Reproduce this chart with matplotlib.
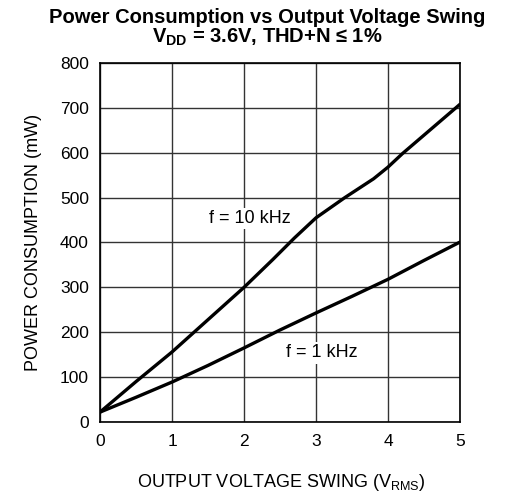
import numpy as np
import matplotlib
matplotlib.use("Agg")
import matplotlib.pyplot as plt

plt.rcParams['font.family'] = ['Liberation Sans', 'DejaVu Sans']
plt.rcParams['mathtext.fontset'] = 'custom'
plt.rcParams['mathtext.rm'] = 'Liberation Sans'
plt.rcParams['mathtext.bf'] = 'Liberation Sans:bold'

# data
v_10k = [0.0, 0.5, 1.0, 1.5, 2.0, 2.4, 2.7, 3.0, 3.4, 3.8, 4.0, 4.2, 4.6, 5.0]
p_10k = [22, 90, 156, 228, 300, 362, 410, 455, 500, 542, 568, 598, 653, 708]
v_1k = [0.0, 0.5, 1.0, 1.5, 2.0, 2.5, 3.0, 3.5, 4.0, 4.5, 5.0]
p_1k = [22, 55, 89, 126, 165, 205, 243, 280, 318, 360, 401]

x_ticks = [0, 1, 2, 3, 4, 5]
y_ticks = [0, 100, 200, 300, 400, 500, 600, 700, 800]

fig = plt.figure(figsize=(5.11, 4.96), dpi=100)
ax = fig.add_axes([0.1957, 0.1492, 0.7045, 0.7238])

ax.plot(v_10k, p_10k, color='black', lw=2.4, solid_capstyle='round', zorder=4)
ax.plot(v_1k, p_1k, color='black', lw=2.4, solid_capstyle='round', zorder=4)

ax.set_xlim(0, 5)
ax.set_ylim(0, 800)
ax.set_xticks(x_ticks)
ax.set_yticks(y_ticks)
ax.grid(True, color='#333333', lw=1.0)
ax.set_axisbelow(True)
ax.tick_params(length=0, labelsize=12.5)
ax.tick_params(axis='y', pad=8)
ax.tick_params(axis='x', pad=9)
for s in ax.spines.values():
    s.set_color('black')
    s.set_linewidth(1.2)

bbox = dict(facecolor='white', edgecolor='none', pad=1.5)
ax.text(2.08, 454, 'f = 10 kHz', fontsize=13, ha='center', va='center', bbox=bbox, zorder=3)
ax.text(3.08, 154, 'f = 1 kHz', fontsize=13, ha='center', va='center', bbox=bbox, zorder=3)

fig.text(0.065, 0.512, 'POWER CONSUMPTION (mW)', fontsize=13, rotation=90,
         ha='center', va='center')
fig.text(0.55, 0.028, 'OUTPUT VOLTAGE SWING (V$_{\\mathrm{RMS}}$)', fontsize=13,
         ha='center', va='center')

fig.text(0.523, 0.944,
         'Power Consumption vs Output Voltage Swing\n'
         '$\\mathbf{V_{DD}}$ = 3.6V, THD+N \u2264 1%',
         fontsize=14.5, fontweight='bold', ha='center', va='center',
         linespacing=0.95, multialignment='center')

fig.savefig('out.png', dpi=100)
